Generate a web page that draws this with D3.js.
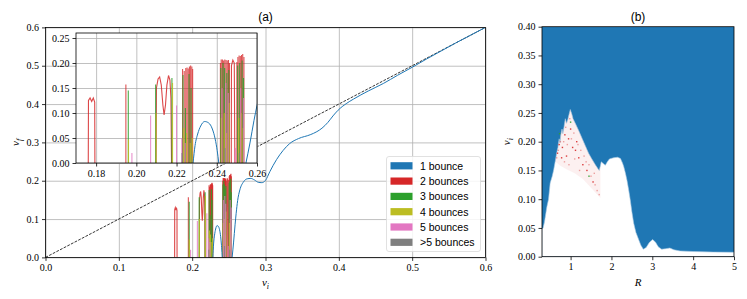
<!DOCTYPE html>
<html>
<head>
<meta charset="utf-8">
<script src="https://cdn.jsdelivr.net/npm/d3@7"></script>
<style>
  body { margin: 0; background: #fff; }
  .tick text { font-family: "Liberation Serif", serif; font-size: 10px; fill: #000; }
  .tick line { stroke: #000; stroke-width: 0.8; }
  .domain { display: none; }
  .grid line { stroke: #b0b0b0; stroke-width: 0.8; }
  .lbl { font-family: "Liberation Serif", serif; font-style: italic; font-size: 11px; }
  .ttl { font-family: "Liberation Sans", sans-serif; font-size: 12px; }
  .leg { font-family: "Liberation Sans", sans-serif; font-size: 10.5px; }
</style>
</head>
<body>
<svg id="chart" width="747" height="299"></svg>
<script>
// ---- data ----
const ticksA = [0, 0.1, 0.2, 0.3, 0.4, 0.5, 0.6];
const ticksInsetX = [0.18, 0.20, 0.22, 0.24, 0.26];
const ticksInsetY = [0, 0.05, 0.10, 0.15, 0.20, 0.25];
const ticksBX = [1, 2, 3, 4, 5];
const ticksBY = [0, 0.05, 0.10, 0.15, 0.20, 0.25, 0.30, 0.35, 0.40];

const legendLabels = ['1 bounce', '2 bounces', '3 bounces', '4 bounces', '5 bounces', '>5 bounces'];
const colors = ['#1f77b4', '#d62728', '#2ca02c', '#bcbd22', '#e377c2', '#7f7f7f'];

// 1 bounce, smooth pieces [vi, vf]
const blueArc = [[0.2282, 0], [0.2292, 0.035], [0.2305, 0.058], [0.2320, 0.074], [0.2340, 0.083],
  [0.2360, 0.080], [0.2378, 0.068], [0.2392, 0.048], [0.2402, 0.025], [0.2410, 0]];
const blueMain = [[0.2545, 0], [0.2565, 0.04], [0.2585, 0.085], [0.2600, 0.115], [0.2620, 0.148],
  [0.2650, 0.176], [0.2700, 0.197], [0.2750, 0.205], [0.2800, 0.206], [0.2850, 0.202], [0.2900, 0.196],
  [0.2950, 0.195], [0.3000, 0.201], [0.3060, 0.224], [0.3150, 0.255], [0.3240, 0.279], [0.3330, 0.297],
  [0.3450, 0.310], [0.3610, 0.320], [0.3700, 0.328], [0.3770, 0.337], [0.3850, 0.352], [0.3920, 0.369],
  [0.3990, 0.384], [0.4100, 0.401], [0.4200, 0.413], [0.4400, 0.434], [0.4610, 0.454], [0.4800, 0.475],
  [0.5000, 0.496], [0.5200, 0.518], [0.5400, 0.539], [0.5600, 0.560], [0.5800, 0.580], [0.6000, 0.600]];

// 2 bounces, curved pieces
const redCurves = [
  [[0.1761, 0], [0.1762, 0.125], [0.1770, 0.130], [0.1778, 0.123], [0.1786, 0.130], [0.1793, 0.122], [0.1794, 0]],
  [[0.2098, 0], [0.2100, 0.150], [0.2108, 0.168], [0.2116, 0.172], [0.2124, 0.156], [0.2132, 0.116],
   [0.2138, 0.096], [0.2145, 0.116], [0.2152, 0.156], [0.2160, 0.175], [0.2167, 0.166], [0.2172, 0.13], [0.2175, 0]],
  [[0.2472, 0], [0.2473, 0.195], [0.2480, 0.206], [0.2487, 0.200], [0.2490, 0]]
];
// spikes [vi, peak vf]
const redSpikes = [[0.1948, 0.157], [0.2230, 0.188], [0.2238, 0.184], [0.2246, 0.190], [0.2252, 0.191],
  [0.2258, 0.189], [0.2264, 0.193], [0.2270, 0.195], [0.2276, 0.193], [0.2280, 0.188],
  [0.2418, 0.200], [0.2422, 0.207], [0.2428, 0.207], [0.2434, 0.205], [0.2440, 0.207], [0.2446, 0.206],
  [0.2452, 0.205], [0.2458, 0.206], [0.2463, 0.200],
  [0.2500, 0.202], [0.2505, 0.212], [0.2511, 0.215], [0.2517, 0.214], [0.2523, 0.216], [0.2529, 0.218], [0.2535, 0.212]];
const greenSpikes = [[0.1960, 0.145], [0.2096, 0.157], [0.2177, 0.170], [0.2232, 0.176], [0.2244, 0.11],
  [0.2262, 0.178], [0.2272, 0.150], [0.2420, 0.190], [0.2431, 0.200], [0.2439, 0.190], [0.2450, 0.180],
  [0.2460, 0.186], [0.2504, 0.195], [0.2514, 0.200], [0.2526, 0.205], [0.2533, 0.170]];
const yellowSpikes = [[0.1961, 0.047], [0.2098, 0.100], [0.2180, 0.160], [0.2236, 0.070], [0.2250, 0.060],
  [0.2268, 0.040], [0.2278, 0.050], [0.2423, 0.090], [0.2437, 0.100], [0.2449, 0.060], [0.2461, 0.120],
  [0.2509, 0.090], [0.2521, 0.100], [0.2531, 0.070]];
const pinkSpikes = [[0.1978, 0.020], [0.2071, 0.095], [0.2200, 0.115], [0.2226, 0.050], [0.2243, 0.040],
  [0.2426, 0.150], [0.2445, 0.160], [0.2457, 0.140], [0.2492, 0.030], [0.2519, 0.150], [0.2533, 0.130]];
const graySpikes = [[0.2227, 0.020], [0.2441, 0.030], [0.2512, 0.020]];

// panel (b): upper edge of the white (no-bounce) region [R, vi]
const edgeB = [[0.3, 0.049], [0.324, 0.049], [0.36, 0.06], [0.42, 0.087], [0.46, 0.10], [0.50, 0.128],
  [0.55, 0.14], [0.586, 0.151], [0.63, 0.168], [0.667, 0.183], [0.69, 0.19], [0.70, 0.196], [0.72, 0.205],
  [0.74, 0.198], [0.76, 0.212], [0.79, 0.222], [0.81, 0.214], [0.84, 0.226], [0.87, 0.240], [0.90, 0.232],
  [0.93, 0.238], [0.96, 0.247], [0.993, 0.256], [1.03, 0.248], [1.06, 0.240], [1.115, 0.232], [1.2, 0.219],
  [1.28, 0.206], [1.36, 0.193], [1.44, 0.180], [1.52, 0.170], [1.605, 0.160], [1.67, 0.153], [1.70, 0.150],
  [1.73, 0.158], [1.75, 0.165], [1.80, 0.162], [1.85, 0.159], [1.90, 0.165], [1.95, 0.170], [2.05, 0.172],
  [2.15, 0.173], [2.22, 0.171], [2.27, 0.163], [2.30, 0.157], [2.34, 0.146], [2.38, 0.133], [2.42, 0.117],
  [2.46, 0.099], [2.50, 0.078], [2.545, 0.058], [2.6, 0.042], [2.67, 0.029], [2.72, 0.02], [2.78, 0.013],
  [2.85, 0.016], [2.93, 0.025], [3.01, 0.030], [3.08, 0.025], [3.15, 0.017], [3.23, 0.013], [3.33, 0.014],
  [3.43, 0.015], [3.53, 0.012], [3.68, 0.010], [4.0, 0.009], [4.49, 0.008], [5.0, 0.0077]];
// lower edge of the speckled multi-bounce zone
const speckleLow = [[1.73, 0.102], [1.5, 0.120], [1.3, 0.135], [1.1, 0.145], [0.9, 0.152], [0.75, 0.158], [0.63, 0.165]];
const redDots = [[0.72, 0.195], [0.80, 0.190], [0.86, 0.212], [0.95, 0.205], [1.00, 0.222], [1.05, 0.190],
  [1.12, 0.185], [1.20, 0.172], [1.30, 0.160], [0.90, 0.175], [1.15, 0.200], [0.78, 0.172], [1.40, 0.150],
  [1.55, 0.130], [0.68, 0.180]];
const paleDots = [[0.70, 0.185], [0.75, 0.200], [0.83, 0.200], [0.88, 0.225], [0.92, 0.195], [0.98, 0.240],
  [1.02, 0.205], [1.08, 0.215], [1.10, 0.170], [1.18, 0.195], [1.25, 0.185], [1.33, 0.175], [1.38, 0.165],
  [1.45, 0.160], [1.50, 0.140], [1.60, 0.125], [1.65, 0.115], [1.70, 0.108], [0.85, 0.165], [0.96, 0.160],
  [1.22, 0.150], [0.66, 0.172], [1.58, 0.145]];
const greenDots = [[0.73, 0.214], [1.00, 0.234], [1.45, 0.140]];

// ---- drawing ----
const svg = d3.select('#chart');

const xA = d3.scaleLinear().domain([0, 0.6]).range([45.5, 485.5]);
const yA = d3.scaleLinear().domain([0, 0.6]).range([257.4, 27.4]);
const xI = d3.scaleLinear().domain([0.17, 0.26]).range([76, 257]);
const yI = d3.scaleLinear().domain([0, 0.26]).range([163, 33]);
const xB = d3.scaleLinear().domain([0.3, 5]).range([542, 734]);
const yB = d3.scaleLinear().domain([0, 0.4]).range([256.7, 26.7]);

function frame(g, x, y) {
  const [x0, x1] = x.range(), [y0, y1] = y.range();
  g.append('rect').attr('x', x0).attr('y', y1).attr('width', x1 - x0).attr('height', y0 - y1)
    .attr('fill', 'none').attr('stroke', '#000').attr('stroke-width', 0.8);
}

function grid(g, x, y, xt, yt) {
  const [x0, x1] = x.range(), [y0, y1] = y.range();
  g.append('g').attr('class', 'grid').attr('transform', `translate(0,${y0})`)
    .call(d3.axisBottom(x).tickValues(xt).tickSize(-(y0 - y1)).tickFormat(''));
  g.append('g').attr('class', 'grid').attr('transform', `translate(${x0},0)`)
    .call(d3.axisLeft(y).tickValues(yt).tickSize(-(x1 - x0)).tickFormat(''));
}

function axes(g, x, y, xt, yt, fx, fy) {
  const [x0] = x.range(), [y0] = y.range();
  g.append('g').attr('transform', `translate(0,${y0})`)
    .call(d3.axisBottom(x).tickValues(xt).tickSize(3.5).tickPadding(3).tickFormat(fx));
  g.append('g').attr('transform', `translate(${x0},0)`)
    .call(d3.axisLeft(y).tickValues(yt).tickSize(3.5).tickPadding(3).tickFormat(fy));
}

function clip(id, x, y) {
  const [x0, x1] = x.range(), [y0, y1] = y.range();
  svg.append('clipPath').attr('id', id).append('rect')
    .attr('x', x0).attr('y', y1).attr('width', x1 - x0).attr('height', y0 - y1);
}

function bounces(g, x, y) {
  const line = d3.line().x(d => x(d[0])).y(d => y(d[1]));
  const smooth = d3.line().x(d => x(d[0])).y(d => y(d[1])).curve(d3.curveMonotoneX);
  const spikes = (arr, c, op) => g.selectAll(null).data(arr).enter().append('path')
    .attr('d', d => line([[d[0], 0], [d[0], d[1]]]))
    .attr('stroke', c).attr('stroke-width', 1.1).attr('stroke-opacity', op).attr('fill', 'none');
  redCurves.forEach(c => g.append('path').attr('d', line(c)).attr('fill', 'none')
    .attr('stroke', colors[1]).attr('stroke-width', 1.1).attr('stroke-opacity', 0.85));
  spikes(redSpikes, colors[1], 0.8);
  spikes(greenSpikes, colors[2], 0.85);
  spikes(yellowSpikes, colors[3], 0.85);
  spikes(pinkSpikes, colors[4], 0.8);
  spikes(graySpikes, colors[5], 0.8);
  [blueArc, blueMain].forEach(c => g.append('path').attr('d', smooth(c)).attr('fill', 'none')
    .attr('stroke', colors[0]).attr('stroke-width', 1));
}

// panel (a)
clip('clipA', xA, yA);
clip('clipI', xI, yI);
clip('clipB', xB, yB);

const gA = svg.append('g');
grid(gA, xA, yA, ticksA, ticksA);
const plotA = gA.append('g').attr('clip-path', 'url(#clipA)');
plotA.append('line').attr('x1', xA(0)).attr('y1', yA(0)).attr('x2', xA(0.6)).attr('y2', yA(0.6))
  .attr('stroke', '#000').attr('stroke-width', 0.8).attr('stroke-dasharray', '2.8,1.3');
bounces(plotA, xA, yA);
axes(gA, xA, yA, ticksA, ticksA, d3.format('.1f'), d3.format('.1f'));
frame(gA, xA, yA);

// inset
const gI = svg.append('g');
gI.append('rect').attr('x', xI.range()[0]).attr('y', yI.range()[1])
  .attr('width', xI.range()[1] - xI.range()[0]).attr('height', yI.range()[0] - yI.range()[1]).attr('fill', '#fff');
grid(gI, xI, yI, ticksInsetX, ticksInsetY);
bounces(gI.append('g').attr('clip-path', 'url(#clipI)'), xI, yI);
axes(gI, xI, yI, ticksInsetX, ticksInsetY, d3.format('.2f'), d3.format('.2f'));
frame(gI, xI, yI);

// legend
const leg = svg.append('g');
leg.append('rect').attr('x', 386.5).attr('y', 156.5).attr('width', 94).attr('height', 95).attr('rx', 2.5)
  .attr('fill', '#fff').attr('fill-opacity', 0.85).attr('stroke', '#d9d9d9').attr('stroke-width', 0.8);
legendLabels.forEach((t, i) => {
  const yy = 165.8 + i * 15.3;
  leg.append('rect').attr('x', 390.5).attr('y', yy - 3.6).attr('width', 22).attr('height', 7.2).attr('fill', colors[i]);
  leg.append('text').attr('class', 'leg').attr('x', 420).attr('y', yy + 3.8).text(t);
});

// labels (a)
svg.append('text').attr('class', 'ttl').attr('x', xA(0.3)).attr('y', 21).attr('text-anchor', 'middle').text('(a)');
const xl = svg.append('text').attr('class', 'lbl').attr('x', xA(0.3)).attr('y', 286).attr('text-anchor', 'middle');
xl.append('tspan').text('v');
xl.append('tspan').attr('font-size', 8).attr('dy', 2.5).text('i');
const yl = svg.append('text').attr('class', 'lbl').attr('transform', `translate(19,${yA(0.3)}) rotate(-90)`).attr('text-anchor', 'middle');
yl.append('tspan').text('v');
yl.append('tspan').attr('font-size', 8).attr('dy', 2.5).text('f');

// panel (b)
const gB = svg.append('g');
const plotB = gB.append('g').attr('clip-path', 'url(#clipB)');
plotB.append('rect').attr('x', xB(0.3)).attr('y', yB(0.4)).attr('width', xB(5) - xB(0.3)).attr('height', yB(0) - yB(0.4))
  .attr('fill', colors[0]);
plotB.append('path').datum(edgeB)
  .attr('d', d3.area().x(d => xB(d[0])).y0(yB(0)).y1(d => yB(d[1])))
  .attr('fill', '#fff').attr('stroke', '#a9c9e3').attr('stroke-width', 0.6);
const speckle = edgeB.filter(d => d[0] >= 0.63 && d[0] <= 1.73).concat(speckleLow);
plotB.append('path').datum(speckle)
  .attr('d', d3.line().x(d => xB(d[0])).y(d => yB(d[1])))
  .attr('fill', colors[1]).attr('fill-opacity', 0.07);
const dots = (arr, c, op) => plotB.selectAll(null).data(arr).enter().append('rect')
  .attr('x', d => xB(d[0]) - 0.7).attr('y', d => yB(d[1]) - 0.7).attr('width', 1.4).attr('height', 1.4)
  .attr('fill', c).attr('fill-opacity', op);
dots(paleDots, colors[1], 0.4);
dots(redDots, colors[1], 0.9);
dots(greenDots, colors[2], 0.9);
axes(gB, xB, yB, ticksBX, ticksBY, d3.format('d'), d3.format('.2f'));
frame(gB, xB, yB);

svg.append('text').attr('class', 'ttl').attr('x', xB(2.65)).attr('y', 21).attr('text-anchor', 'middle').text('(b)');
svg.append('text').attr('class', 'lbl').attr('x', xB(2.65)).attr('y', 286).attr('text-anchor', 'middle').text('R');
const by = svg.append('text').attr('class', 'lbl').attr('transform', `translate(510,${yB(0.2)}) rotate(-90)`).attr('text-anchor', 'middle');
by.append('tspan').text('v');
by.append('tspan').attr('font-size', 8).attr('dy', 2.5).text('i');
</script>
</body>
</html>
